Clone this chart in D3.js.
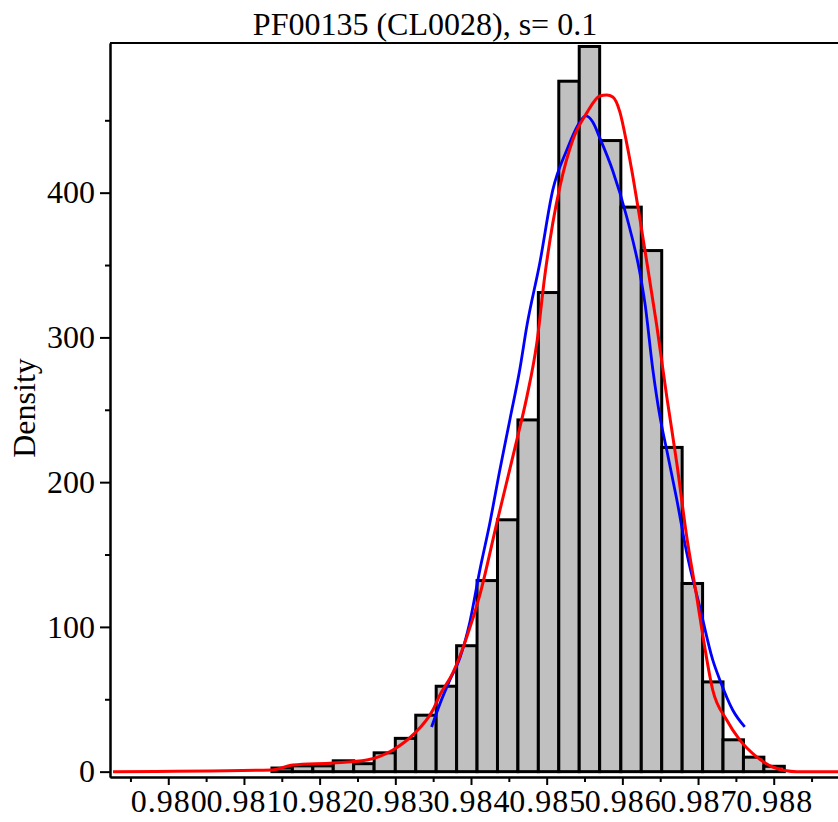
<!DOCTYPE html>
<html>
<head>
<meta charset="utf-8">
<script src="https://cdn.jsdelivr.net/npm/d3@7"></script>
<style>
  html, body { margin: 0; padding: 0; background: #fff; }
  svg { display: block; }
  text { font-family: "Liberation Serif", "Times New Roman", serif; fill: #000; }
</style>
</head>
<body>
<script>
// ---------- data ----------
const titleText = "PF00135 (CL0028), s= 0.1";
const yLabelText = "Density";

// histogram bin edges (x values) and bar densities
const binEdges = [0.98137, 0.98164, 0.98191, 0.98218, 0.98245, 0.98272, 0.98300, 0.98327,
  0.98354, 0.98381, 0.98408, 0.98435, 0.98462, 0.98489, 0.98516, 0.98543, 0.98570,
  0.98598, 0.98625, 0.98652, 0.98679, 0.98706, 0.98733, 0.98760, 0.98787, 0.98814];
const binDensity = [2.5, 4, 4, 7.5, 5.5, 13, 23, 39, 59, 87, 132, 174, 243, 331, 477, 501,
  436, 390, 360, 224, 130, 62, 22, 10, 3.7];

// blue fitted curve
const blueX = [0.983479, 0.983589, 0.983721, 0.983853, 0.983985, 0.984117, 0.984249, 0.984381,
  0.984513, 0.984645, 0.984738, 0.984909, 0.985081, 0.985266, 0.985438, 0.985517, 0.985609,
  0.985702, 0.985874, 0.986058, 0.986230, 0.986300, 0.986402, 0.986494, 0.986587, 0.986719,
  0.986851, 0.987023, 0.987194, 0.987287, 0.987458, 0.987617];
const blueY = [30.9, 46.8, 63.4, 78.5, 103.4, 139.3, 171.8, 208.4,
  243.0, 278.0, 307.9, 351.4, 401.9, 429.5, 448.8, 453.0, 448.8,
  437.8, 415.0, 383.2, 345.0, 323.0, 278.0, 246.0, 222.0, 188.0,
  151.0, 113.8, 77.2, 63.5, 42.6, 30.9];

// red density curve
const redX = [0.979270, 0.981370, 0.981647, 0.982175, 0.982624, 0.982968, 0.983232, 0.983496,
  0.983589, 0.983760, 0.983945, 0.984117, 0.984341, 0.984606, 0.984738, 0.984870, 0.984975,
  0.985081, 0.985174, 0.985345, 0.985530, 0.985702, 0.985794, 0.985874, 0.985966, 0.986058,
  0.986138, 0.986230, 0.986323, 0.986455, 0.986587, 0.986719, 0.986851, 0.986983, 0.987062,
  0.987194, 0.987379, 0.987551, 0.987775, 0.987987, 0.988304, 0.989100];
const redY = [0, 1.2, 4.6, 6.0, 8.1, 15.0, 25.4, 42.6,
  53.0, 68.2, 93.1, 122.1, 171.8, 229.2, 258.9, 296.2, 342.5,
  379.1, 403.9, 436.4, 455.1, 466.8, 467.5, 466.1, 456.0, 434.0,
  411.5, 382.5, 352.1, 307.9, 258.9, 213.3, 162.1, 120.7, 94.4,
  56.4, 35.7, 21.9, 10.2, 3.2, 0, 0];

// axis ticks
const xMajorTicks = [0.980, 0.981, 0.982, 0.983, 0.984, 0.985, 0.986, 0.987, 0.988];
const xMajorLabels = ["0.980", "0.981", "0.982", "0.983", "0.984", "0.985", "0.986", "0.987", "0.988"];
const xMinorTicks = [0.9795, 0.9805, 0.9815, 0.9825, 0.9835, 0.9845, 0.9855, 0.9865, 0.9875, 0.9885];
const yMajorTicks = [0, 100, 200, 300, 400];
const yMajorLabels = ["0", "100", "200", "300", "400"];
const yMinorTicks = [50, 150, 250, 350, 450];

// ---------- layout ----------
const W = 838, H = 822;
const mLeft = 110, mRight = 860, mTop = 43, mBottom = 777;

const svg = d3.select("body").append("svg").attr("width", W).attr("height", H);

const x = d3.scaleLinear().domain([0.97923, 0.98914]).range([mLeft, mRight]);
const y = d3.scaleLinear().domain([-3.7, 503.4]).range([mBottom, mTop]);

// bars
const bars = binDensity.map((d, i) => ({ x0: binEdges[i], x1: binEdges[i + 1], v: d }));
svg.append("g").selectAll("rect").data(bars).join("rect")
  .attr("x", d => x(d.x0))
  .attr("y", d => y(d.v))
  .attr("width", d => x(d.x1) - x(d.x0))
  .attr("height", d => y(0) - y(d.v))
  .attr("fill", "#c0c0c0")
  .attr("stroke", "#000")
  .attr("stroke-width", 3);

// curves
const line = d3.line().x(d => x(d[0])).y(d => y(d[1])).curve(d3.curveMonotoneX);
svg.append("path")
  .attr("d", line(blueX.map((v, i) => [v, blueY[i]])))
  .attr("fill", "none").attr("stroke", "#0000ff").attr("stroke-width", 2.8);
svg.append("path")
  .attr("d", line(redX.map((v, i) => [v, redY[i]])))
  .attr("fill", "none").attr("stroke", "#ff0000").attr("stroke-width", 3);

// axes
const fontSize = 32;
const xAxisMajor = d3.axisBottom(x).tickValues(xMajorTicks)
  .tickFormat((d, i) => xMajorLabels[i]).tickSize(8).tickSizeOuter(0).tickPadding(4);
const xAxisMinor = d3.axisBottom(x).tickValues(xMinorTicks)
  .tickFormat("").tickSize(5).tickSizeOuter(0);
const yAxisMajor = d3.axisLeft(y).tickValues(yMajorTicks)
  .tickFormat((d, i) => yMajorLabels[i]).tickSize(10).tickSizeOuter(0).tickPadding(5);
const yAxisMinor = d3.axisLeft(y).tickValues(yMinorTicks)
  .tickFormat("").tickSize(5).tickSizeOuter(0);

function styleAxis(g) {
  g.selectAll("path, line").attr("stroke", "#000").attr("stroke-width", 2);
  g.selectAll("text").attr("font-family", "Liberation Serif, Times New Roman, serif")
    .attr("font-size", fontSize).attr("fill", "#000");
}

svg.append("g").attr("transform", `translate(0,${mBottom})`).call(xAxisMinor).call(styleAxis);
svg.append("g").attr("transform", `translate(0,${mBottom})`).call(xAxisMajor).call(styleAxis)
  .selectAll("text").attr("letter-spacing", "1px").attr("dx", "0.5px");
svg.append("g").attr("transform", `translate(${mLeft},0)`).call(yAxisMinor).call(styleAxis);
svg.append("g").attr("transform", `translate(${mLeft},0)`).call(yAxisMajor).call(styleAxis);

// top border
svg.append("line").attr("x1", mLeft).attr("x2", mRight).attr("y1", mTop).attr("y2", mTop)
  .attr("stroke", "#000").attr("stroke-width", 2);

// title
svg.append("text").attr("x", 425).attr("y", 35).attr("text-anchor", "middle")
  .attr("font-size", fontSize).text(titleText);

// y label
svg.append("text").attr("transform", "translate(35,408) rotate(-90)")
  .attr("text-anchor", "middle").attr("font-size", fontSize).text(yLabelText);
</script>
</body>
</html>
